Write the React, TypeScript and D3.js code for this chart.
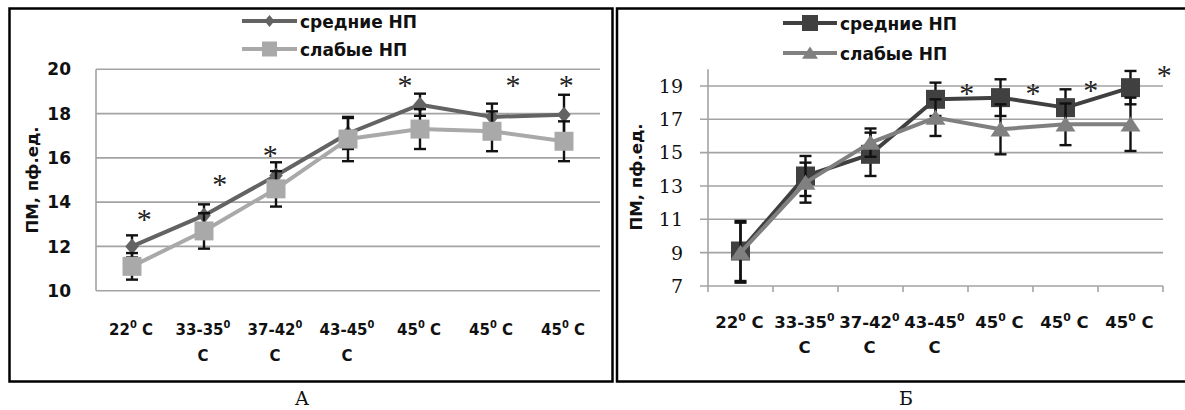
import * as d3 from "d3";

// categories (x axis), one entry per line of the wrapped tick label; "°" marks the raised zero
const xTickLabels: string[][] = [
  ["22° C"],
  ["33-35°", "C"],
  ["37-42°", "C"],
  ["43-45°", "C"],
  ["45° C"],
  ["45° C"],
  ["45° C"],
];
const seriesNames = ["средние НП", "слабые НП"];

// panel А
const aMedium = [12.0, 13.4, 15.2, 17.1, 18.4, 17.85, 17.95];
const aMediumErr = [0.5, 0.5, 0.6, 0.7, 0.5, 0.6, 0.9];
const aWeak = [11.1, 12.7, 14.6, 16.85, 17.3, 17.2, 16.75];
const aWeakErr = [0.6, 0.8, 0.8, 1.0, 0.9, 0.9, 0.9];
const aTicks = [10, 12, 14, 16, 18, 20];
const aStarAt = [0.67, 1.72, 2.42, 4.29, 5.79, 6.53];
const aStarValue = [13.4, 15.0, 16.3, 19.45, 19.45, 19.45];

// panel Б
const bMedium = [9.1, 13.6, 14.9, 18.2, 18.3, 17.7, 18.9];
const bMediumErr = [1.8, 1.2, 1.3, 1.0, 1.1, 1.1, 1.0];
const bWeak = [9.0, 13.2, 15.6, 17.1, 16.4, 16.7, 16.7];
const bWeakErr = [1.8, 1.2, 0.85, 1.1, 1.5, 1.25, 1.6];
const bTicks = [7, 9, 11, 13, 15, 17, 19];
const bStarAt = [3.98, 5.0, 5.89, 7.02];
const bStarValue = [18.8, 18.8, 19.0, 19.9];

const sans = "'DejaVu Sans', sans-serif";
const serif = "'DejaVu Serif', 'Liberation Serif', serif";

type Marker = "diamond" | "square" | "triangle";

const markerPath = (kind: Marker, size: number) => {
  if (kind === "diamond") {
    const w = size * 0.42
    const h = size * 0.5
    return `M0,${-h}L${w},0L0,${h}L${-w},0Z`
  }
  if (kind === "square") {
    const s = size / 2
    return `M${-s},${-s}H${s}V${s}H${-s}Z`
  }
  const w = size / 2
  return `M0,${-size * 0.4}L${w},${size * 0.36}L${-w},${size * 0.36}Z`
}

const TickText = ({ line, x, y, size }: { line: string; x: number; y: number; size: number }) => {
  const parts = line.split("°")
  const sup = size * 0.45
  return (
    <text x={x} y={y} textAnchor="middle" fontFamily={sans} fontWeight="bold" fontSize={size} style={{ whiteSpace: "pre" }} fill="#111">
      {parts[0]}
      {parts.length > 1 && (
        <>
          <tspan dy={-sup} fontSize={size * 0.66}>0</tspan>
          <tspan dy={sup}>{parts[1]}</tspan>
        </>
      )}
    </text>
  )
}

type PanelProps = {
  x0: number
  x1: number
  domain: [number, number]
  yRange: [number, number]
  ticks: number[]
  gridFrom: number
  outerTicks: boolean
  tickX: number
  tickFont: string
  tickWeight: string
  tickSize: number
  labelY: number
  labelGap: number
  labelSize: number
  title: [number, number]
  legendX: [number, number]
  legendY: [number, number]
  series: { values: number[]; errors: number[]; color: string; marker: Marker; size: number; legendSize: number }[]
  starAt: number[]
  starValue: number[]
}

const Panel = (p: PanelProps) => {
  const y = d3.scaleLinear().domain(p.domain).range(p.yRange)
  const cu = d3.scaleLinear().domain([0, xTickLabels.length]).range([p.x0, p.x1])
  const cx = (i: number) => cu(i + 0.5)
  const line = d3
    .line<number>()
    .x((_, i) => cx(i))
    .y((d) => y(d))
  const [top, bottom] = [y(p.domain[1]), y(p.domain[0])]

  return (
    <g>
      {p.ticks.map((t) => (
        <line key={t} x1={p.gridFrom} x2={p.x1} y1={y(t)} y2={y(t)} stroke="#a3a3a3" strokeWidth={1.6} />
      ))}
      <line x1={p.x0} x2={p.x0} y1={top} y2={bottom} stroke="#a3a3a3" strokeWidth={1.6} />
      {p.outerTicks &&
        d3.range(xTickLabels.length + 1).map((k) => (
          <line key={k} x1={cu(k)} x2={cu(k)} y1={bottom} y2={bottom + 6} stroke="#a3a3a3" strokeWidth={1.6} />
        ))}
      {p.ticks.map((t) => (
        <text
          key={t}
          x={p.tickX}
          y={y(t)}
          dy="0.36em"
          textAnchor="end"
          fontFamily={p.tickFont}
          fontWeight={p.tickWeight}
          fontSize={p.tickSize}
          fill="#111"
        >
          {t}
        </text>
      ))}
      <text
        transform={`translate(${p.title[0]},${p.title[1]}) rotate(-90)`}
        textAnchor="middle"
        dy="0.36em"
        fontFamily={sans}
        fontWeight="bold"
        fontSize={16.5}
        fill="#111"
      >
        ПМ, пф.ед.
      </text>
      {xTickLabels.map((lines, i) =>
        lines.map((l, j) => (
          <TickText key={`${i}-${j}`} line={l} x={cx(i) - 1} y={p.labelY + j * p.labelGap} size={p.labelSize} />
        ))
      )}

      {p.series.map((s, si) => (
        <g key={si}>
          {s.values.map((v, i) => {
            const e = s.errors[i]
            return (
              <g key={i} stroke="#111" strokeWidth={2.4}>
                <line x1={cx(i)} x2={cx(i)} y1={y(v + e)} y2={y(v - e)} />
                <line x1={cx(i) - 6} x2={cx(i) + 6} y1={y(v + e)} y2={y(v + e)} />
                <line x1={cx(i) - 6} x2={cx(i) + 6} y1={y(v - e)} y2={y(v - e)} />
              </g>
            )
          })}
          <path d={line(s.values) ?? ""} fill="none" stroke={s.color} strokeWidth={4} strokeLinejoin="round" />
          {s.values.map((v, i) => (
            <path key={i} d={markerPath(s.marker, s.size)} transform={`translate(${cx(i)},${y(v)})`} fill={s.color} />
          ))}
        </g>
      ))}

      {p.starAt.map((u, i) => (
        <text key={i} x={cu(u)} y={y(p.starValue[i]) + 14} textAnchor="middle" fontFamily="'Liberation Serif', serif" fontSize={30} fill="#222">
          *
        </text>
      ))}

      {p.series.map((s, si) => (
        <g key={si}>
          <line x1={p.legendX[0]} x2={p.legendX[1]} y1={p.legendY[si]} y2={p.legendY[si]} stroke={s.color} strokeWidth={4} />
          <path
            d={markerPath(s.marker, s.legendSize)}
            transform={`translate(${(p.legendX[0] + p.legendX[1]) / 2},${p.legendY[si]})`}
            fill={s.color}
          />
          <text x={p.legendX[1] + 3} y={p.legendY[si] + 1} dy="0.36em" fontFamily={sans} fontWeight="bold" fontSize={17} fill="#111">
            {seriesNames[si]}
          </text>
        </g>
      ))}
    </g>
  )
}

export default function App() {
  return (
    <svg width={1185} height={410} style={{ position: "absolute", left: 0, top: 0, background: "#fff" }}>
      <rect x={0} y={0} width={1185} height={410} fill="#fff" />
      <rect x={9.5} y={8.5} width={603} height={373} fill="none" stroke="#000" strokeWidth={2.5} />
      <rect x={617} y={8.5} width={590} height={373} fill="none" stroke="#000" strokeWidth={2.5} />

      <Panel
        x0={96}
        x1={600}
        domain={[10, 20]}
        yRange={[290.7, 69.3]}
        ticks={aTicks}
        gridFrom={96}
        outerTicks={false}
        tickX={71}
        tickFont={sans}
        tickWeight="bold"
        tickSize={17}
        labelY={335}
        labelGap={26}
        labelSize={15}
        title={[32, 180]}
        legendX={[242, 297]}
        legendY={[21, 49]}
        series={[
          { values: aMedium, errors: aMediumErr, color: "#636363", marker: "diamond", size: 16, legendSize: 12 },
          { values: aWeak, errors: aWeakErr, color: "#a9a9a9", marker: "square", size: 19, legendSize: 15 },
        ]}
        starAt={aStarAt}
        starValue={aStarValue}
      />

      <Panel
        x0={708}
        x1={1163}
        domain={[7, 20]}
        yRange={[286, 69.3]}
        ticks={bTicks}
        gridFrom={700}
        outerTicks={true}
        tickX={683}
        tickFont={serif}
        tickWeight="normal"
        tickSize={19}
        labelY={328}
        labelGap={25}
        labelSize={16.5}
        title={[636, 177]}
        legendX={[783, 837]}
        legendY={[23, 53]}
        series={[
          { values: bMedium, errors: bMediumErr, color: "#404040", marker: "square", size: 19, legendSize: 16 },
          { values: bWeak, errors: bWeakErr, color: "#808080", marker: "triangle", size: 20, legendSize: 16 },
        ]}
        starAt={bStarAt}
        starValue={bStarValue}
      />

      <text x={302} y={405} textAnchor="middle" fontFamily={serif} fontSize={19} fill="#111">
        А
      </text>
      <text x={906} y={405} textAnchor="middle" fontFamily={serif} fontSize={19} fill="#111">
        Б
      </text>
    </svg>
  )
}
